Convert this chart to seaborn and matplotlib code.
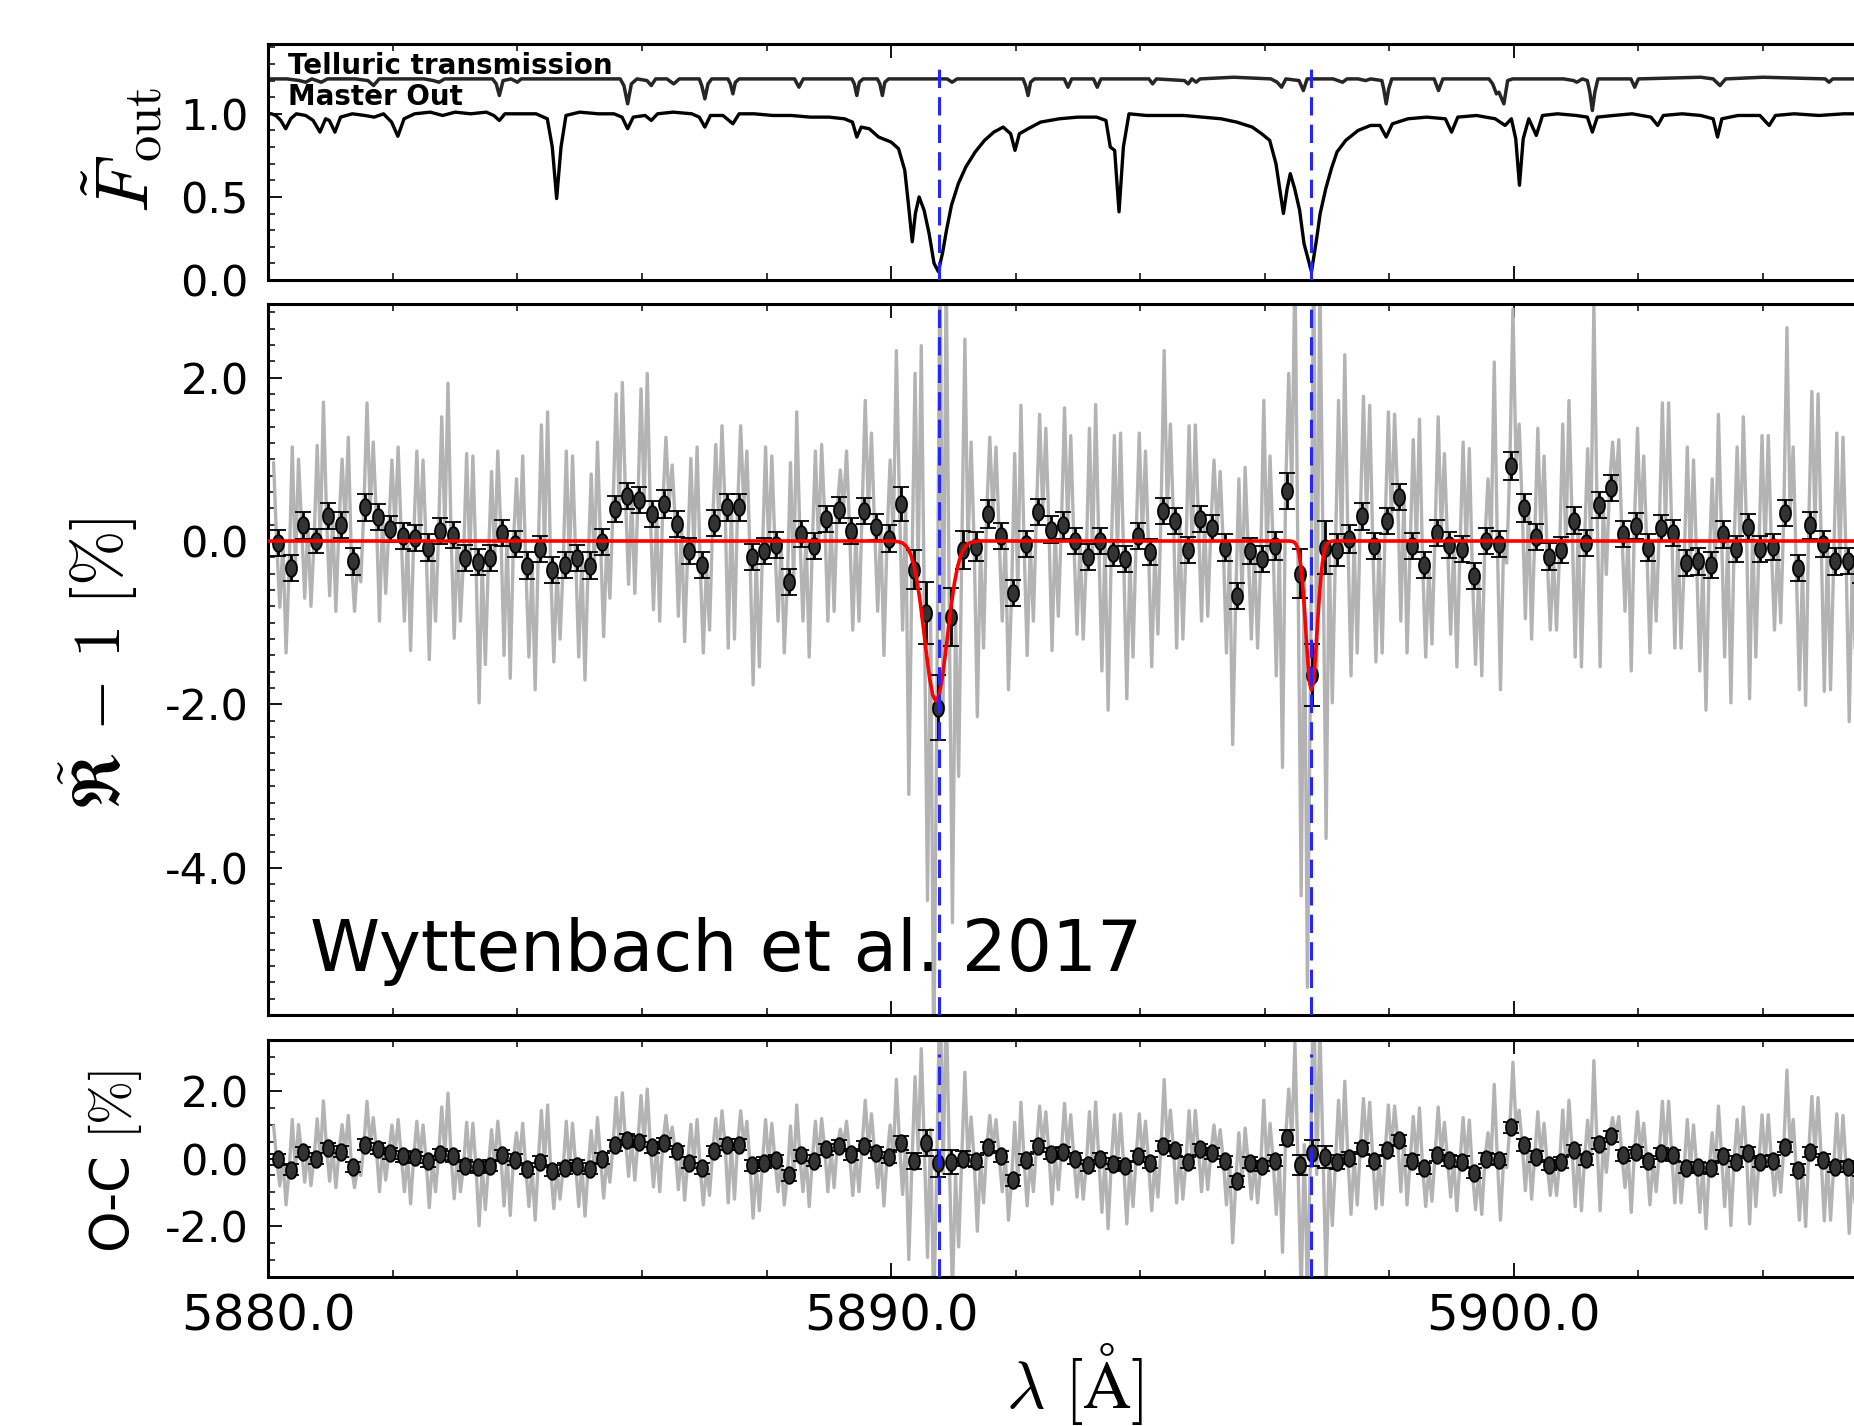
import numpy as np
import matplotlib
matplotlib.use('Agg')
import seaborn as sns
from matplotlib import pyplot as plt
from matplotlib.ticker import MultipleLocator, FormatStrFormatter

# --- top panel: master-out spectrum and telluric transmission
master_wave = [5879.90, 5880.05, 5880.12, 5880.20, 5880.28, 5880.36, 5880.45, 5880.60, 5880.72, 5880.83,
               5880.92, 5880.98, 5881.07, 5881.16, 5881.35, 5881.55, 5881.70, 5881.85, 5881.98, 5882.08,
               5882.18, 5882.35, 5882.60, 5882.80, 5883.00, 5883.25, 5883.50, 5883.62, 5883.71, 5883.80,
               5884.00, 5884.30, 5884.48, 5884.56, 5884.63, 5884.70, 5884.78, 5885.00, 5885.30, 5885.55,
               5885.68, 5885.77, 5885.86, 5886.05, 5886.15, 5886.25, 5886.50, 5886.80, 5886.92, 5887.01,
               5887.10, 5887.30, 5887.46, 5887.56, 5887.80, 5888.10, 5888.40, 5888.70, 5889.00, 5889.25,
               5889.38, 5889.45, 5889.52, 5889.65, 5889.80, 5890.00, 5890.12, 5890.22, 5890.28, 5890.34,
               5890.39, 5890.45, 5890.53, 5890.61, 5890.69, 5890.76, 5890.83, 5890.89, 5890.97, 5891.08,
               5891.20, 5891.35, 5891.50, 5891.65, 5891.80, 5891.92, 5891.99, 5892.06, 5892.20, 5892.40,
               5892.70, 5893.00, 5893.30, 5893.45, 5893.52, 5893.59, 5893.66, 5893.73, 5893.82, 5894.10,
               5894.40, 5894.70, 5895.00, 5895.30, 5895.55, 5895.80, 5895.95, 5896.08, 5896.18, 5896.30,
               5896.36, 5896.41, 5896.48, 5896.56, 5896.63, 5896.75, 5896.83, 5896.89, 5896.98, 5897.07,
               5897.16, 5897.30, 5897.50, 5897.70, 5897.85, 5897.95, 5898.05, 5898.30, 5898.60, 5898.90,
               5899.00, 5899.10, 5899.40, 5899.70, 5899.86, 5899.96, 5900.03, 5900.09, 5900.15, 5900.24,
               5900.36, 5900.46, 5900.70, 5901.00, 5901.18, 5901.26, 5901.34, 5901.60, 5901.90, 5902.20,
               5902.31, 5902.40, 5902.70, 5903.00, 5903.20, 5903.27, 5903.34, 5903.60, 5903.95, 5904.10,
               5904.20, 5904.50, 5904.90, 5905.30, 5906.00]
master_flux = [1.00, 1.00, 0.99, 0.96, 0.91, 0.97, 1.00, 0.99, 0.96, 0.89,
               0.97, 0.96, 0.89, 0.98, 1.00, 0.99, 0.98, 1.00, 0.95, 0.865,
               0.97, 1.00, 1.01, 0.99, 1.01, 1.00, 1.01, 0.99, 0.96, 1.00,
               1.00, 1.00, 0.97, 0.80, 0.49, 0.80, 0.99, 1.01, 1.00, 1.00,
               0.98, 0.91, 0.98, 0.99, 0.96, 1.00, 1.01, 1.00, 0.98, 0.92,
               0.99, 0.99, 0.94, 1.00, 1.00, 0.99, 0.99, 0.98, 0.98, 0.97,
               0.95, 0.86, 0.92, 0.91, 0.86, 0.83, 0.79, 0.66, 0.45, 0.23,
               0.40, 0.50, 0.42, 0.28, 0.10, 0.05, 0.17, 0.30, 0.45, 0.58,
               0.68, 0.77, 0.84, 0.89, 0.92, 0.88, 0.78, 0.88, 0.91, 0.95,
               0.97, 0.98, 0.98, 0.96, 0.80, 0.78, 0.41, 0.80, 1.00, 0.99,
               0.99, 0.99, 0.98, 0.97, 0.95, 0.92, 0.88, 0.84, 0.70, 0.40,
               0.55, 0.64, 0.55, 0.42, 0.22, 0.05, 0.24, 0.40, 0.55, 0.67,
               0.77, 0.84, 0.90, 0.93, 0.93, 0.86, 0.94, 0.97, 0.98, 0.97,
               0.89, 0.98, 0.99, 0.97, 0.93, 0.97, 0.85, 0.57, 0.85, 0.97,
               0.87, 0.99, 1.00, 0.99, 0.98, 0.89, 0.98, 0.99, 1.00, 0.98,
               0.93, 0.99, 1.00, 0.99, 0.97, 0.86, 0.97, 0.99, 0.99, 0.93,
               0.99, 1.00, 0.99, 1.00, 1.00]

telluric_wave = [5879.90, 5880.30, 5880.50, 5880.60, 5880.70, 5880.85, 5880.95, 5881.40, 5881.60, 5881.69,
                 5881.78, 5882.50, 5882.65, 5882.74, 5882.83, 5883.60, 5883.66, 5883.71, 5883.77, 5883.90,
                 5883.95, 5884.00, 5884.06, 5885.65, 5885.71, 5885.77, 5885.83, 5885.92, 5886.08, 5886.15,
                 5886.22, 5886.40, 5886.51, 5886.60, 5886.92, 5886.96, 5887.01, 5887.06, 5887.12, 5887.38,
                 5887.42, 5887.46, 5887.50, 5887.56, 5888.45, 5888.52, 5888.59, 5889.37, 5889.41, 5889.45,
                 5889.49, 5889.55, 5889.78, 5889.82, 5889.86, 5889.90, 5889.96, 5890.90, 5890.98, 5891.06,
                 5892.12, 5892.16, 5892.20, 5892.24, 5892.30, 5892.78, 5892.84, 5892.90, 5893.25, 5893.31,
                 5893.37, 5894.14, 5894.20, 5894.26, 5894.71, 5894.77, 5894.83, 5894.90, 5894.96, 5895.50,
                 5896.10, 5896.20, 5896.27, 5896.34, 5896.55, 5896.62, 5896.68, 5897.10, 5897.25, 5897.32,
                 5897.50, 5897.62, 5897.70, 5897.88, 5897.91, 5897.95, 5897.99, 5898.04, 5898.72, 5898.79,
                 5898.86, 5899.60, 5899.66, 5899.72, 5899.76, 5899.84, 5899.90, 5899.98, 5900.80, 5900.96,
                 5901.01, 5901.10, 5901.18, 5901.22, 5901.26, 5901.30, 5901.35, 5901.88, 5901.94, 5902.00,
                 5903.00, 5903.20, 5903.31, 5903.40, 5904.00, 5905.00, 5905.06, 5905.12, 5906.00]
telluric_flux = [1.21, 1.21, 1.20, 1.19, 1.21, 1.19, 1.21, 1.21, 1.20, 1.17,
                 1.21, 1.21, 1.20, 1.19, 1.21, 1.21, 1.18, 1.11, 1.20, 1.21,
                 1.20, 1.19, 1.21, 1.21, 1.17, 1.06, 1.18, 1.21, 1.20, 1.17,
                 1.21, 1.21, 1.18, 1.21, 1.21, 1.17, 1.09, 1.18, 1.21, 1.21,
                 1.18, 1.12, 1.19, 1.21, 1.21, 1.16, 1.21, 1.21, 1.18, 1.11,
                 1.19, 1.21, 1.21, 1.18, 1.11, 1.19, 1.21, 1.21, 1.19, 1.21,
                 1.21, 1.17, 1.11, 1.19, 1.21, 1.21, 1.16, 1.21, 1.21, 1.16,
                 1.21, 1.21, 1.18, 1.21, 1.20, 1.18, 1.21, 1.19, 1.21, 1.22,
                 1.21, 1.19, 1.16, 1.21, 1.20, 1.14, 1.21, 1.21, 1.19, 1.21,
                 1.21, 1.20, 1.21, 1.20, 1.15, 1.06, 1.15, 1.21, 1.21, 1.14,
                 1.21, 1.21, 1.18, 1.12, 1.13, 1.06, 1.20, 1.21, 1.21, 1.20,
                 1.19, 1.21, 1.20, 1.13, 1.02, 1.13, 1.21, 1.21, 1.16, 1.21,
                 1.22, 1.21, 1.17, 1.21, 1.22, 1.21, 1.19, 1.21, 1.21]

# --- transmission spectrum, 0.2 A bins starting at 5880.16 A
bin_start, bin_step = 5880.16, 0.2
binned_rel = [-0.02, -0.33, 0.19, 0.00, 0.31, 0.20, -0.25, 0.41, 0.29, 0.15,
              0.06, 0.04, -0.08, 0.12, 0.07, -0.21, -0.26, -0.21, 0.10, -0.04,
              -0.30, -0.10, -0.36, -0.29, -0.21, -0.30, -0.01, 0.39, 0.55, 0.50,
              0.33, 0.45, 0.21, -0.12, -0.29, 0.22, 0.41, 0.41, -0.20, -0.12,
              -0.05, -0.50, 0.09, -0.06, 0.27, 0.38, 0.12, 0.37, 0.17, 0.03,
              0.45, -0.35, -0.88, -2.04, -0.93, -0.11, -0.07, 0.33, 0.06, -0.64,
              -0.04, 0.36, 0.14, 0.19, 0.00, -0.20, 0.00, -0.15, -0.22, 0.06,
              -0.13, 0.37, 0.24, -0.11, 0.27, 0.16, -0.08, -0.67, -0.12, -0.22,
              -0.06, 0.61, -0.40, -1.64, -0.08, -0.11, 0.02, 0.30, -0.06, 0.24,
              0.54, -0.06, -0.29, 0.10, -0.05, -0.10, -0.43, 0.00, -0.04, 0.92,
              0.40, 0.05, -0.19, -0.11, 0.25, -0.02, 0.44, 0.65, 0.09, 0.18,
              -0.08, 0.16, 0.10, -0.27, -0.25, -0.29, 0.08, -0.10, 0.17, -0.10,
              -0.07, 0.34, -0.33, 0.19, -0.04, -0.25, -0.24, -0.36, -0.30]
binned_err = [0.16, 0.16, 0.16, 0.15, 0.16, 0.16, 0.16, 0.17, 0.16, 0.16,
              0.16, 0.16, 0.16, 0.16, 0.16, 0.16, 0.16, 0.16, 0.16, 0.16,
              0.16, 0.16, 0.16, 0.16, 0.16, 0.16, 0.16, 0.16, 0.16, 0.16,
              0.16, 0.17, 0.16, 0.16, 0.16, 0.16, 0.16, 0.16, 0.16, 0.16,
              0.16, 0.16, 0.16, 0.16, 0.16, 0.16, 0.16, 0.16, 0.16, 0.17,
              0.21, 0.24, 0.38, 0.40, 0.35, 0.23, 0.18, 0.17, 0.16, 0.16,
              0.16, 0.16, 0.16, 0.16, 0.16, 0.16, 0.16, 0.16, 0.16, 0.16,
              0.16, 0.16, 0.16, 0.16, 0.16, 0.16, 0.16, 0.16, 0.16, 0.16,
              0.17, 0.22, 0.30, 0.38, 0.32, 0.20, 0.17, 0.16, 0.16, 0.16,
              0.16, 0.16, 0.16, 0.16, 0.16, 0.16, 0.16, 0.16, 0.16, 0.17,
              0.17, 0.16, 0.16, 0.16, 0.16, 0.16, 0.16, 0.16, 0.16, 0.16,
              0.16, 0.16, 0.16, 0.16, 0.16, 0.16, 0.16, 0.16, 0.16, 0.16,
              0.16, 0.16, 0.16, 0.16, 0.16, 0.16, 0.16, 0.16, 0.16]
# upper / lower excursion of the full-resolution spectrum inside each bin
gray_hi = [0.96, 1.15, 1.00, 1.17, 1.70, 1.00, 1.27, 1.69, 1.21, 0.99,
           1.15, 1.10, 0.99, 1.52, 1.93, 1.07, 1.04, 0.85, 1.10, 0.76,
           1.04, 1.42, 1.58, 1.10, 1.04, 0.82, 1.21, 1.80, 1.94, 1.86,
           2.05, 1.27, 0.93, 1.01, 1.15, 1.18, 1.41, 1.41, 1.10, 1.15,
           1.04, 0.96, 1.58, 1.10, 1.18, 0.87, 1.10, 1.72, 1.32, 0.99,
           2.33, 2.05, 2.39, 3.60, 3.40, 2.47, 1.21, 1.27, 1.15, 1.07,
           1.66, 1.55, 1.38, 1.63, 1.29, 1.38, 1.67, 1.29, 1.32, 1.32,
           1.10, 2.33, 1.43, 1.41, 1.42, 0.99, 0.85, 0.76, 0.90, 1.72,
           1.04, 2.05, 3.40, 3.60, 3.30, 1.72, 2.28, 1.77, 1.66, 1.58,
           1.55, 1.24, 1.49, 1.52, 1.07, 1.21, 1.13, 0.76, 2.19, 2.84,
           1.43, 1.38, 1.04, 1.43, 1.72, 1.13, 2.89, 1.21, 1.24, 1.38,
           1.04, 1.69, 1.69, 1.15, 0.99, 0.76, 1.55, 1.15, 1.52, 1.29,
           1.29, 2.61, 1.15, 1.83, 1.80, 1.32, 1.27, 1.00, 1.10]
gray_lo = [-0.81, -1.37, -0.70, -0.80, -0.67, -0.86, -0.86, -0.50, -0.98, -0.64,
           -0.98, -1.34, -1.45, -0.98, -1.19, -0.98, -1.98, -1.51, -1.40, -1.68,
           -1.42, -1.82, -1.48, -1.20, -1.42, -1.70, -1.17, -0.70, -0.53, -0.64,
           -0.84, -0.98, -0.92, -1.23, -1.37, -1.09, -1.31, -1.20, -1.76, -1.54,
           -0.98, -1.37, -0.98, -1.42, -0.98, -0.86, -1.09, -0.98, -0.86, -1.40,
           -1.09, -3.10, -4.40, -6.50, -4.67, -2.88, -2.15, -1.31, -0.98, -1.82,
           -1.40, -0.98, -1.34, -0.92, -1.14, -1.20, -1.59, -2.07, -1.93, -1.42,
           -1.54, -1.14, -1.31, -1.20, -0.98, -0.92, -1.37, -2.49, -1.20, -1.31,
           -1.65, -2.77, -4.34, -5.46, -3.64, -1.98, -1.65, -1.37, -1.48, -1.37,
           -0.98, -1.37, -1.42, -1.26, -1.14, -1.54, -1.51, -1.65, -1.82, -0.27,
           -0.95, -1.20, -1.09, -1.09, -1.42, -1.54, -1.54, -0.41, -0.86, -1.59,
           -1.37, -0.98, -1.31, -1.31, -1.59, -2.07, -1.42, -1.98, -1.93, -1.42,
           -1.09, -1.00, -1.82, -2.01, -1.84, -1.82, -2.21, -1.50, -1.30]

# --- fitted absorption model (red curve): offsets from each line centre and depths
line_centres = [5890.72, 5896.75]
d2_offset = [-0.70, -0.60, -0.55, -0.50, -0.45, -0.40, -0.35, -0.30, -0.25, -0.20, -0.15, -0.10, -0.05, 0.00,
             0.05, 0.10, 0.15, 0.20, 0.25, 0.30, 0.35, 0.40, 0.45, 0.50, 0.55, 0.60, 0.70]
d2_model = [0.0, -0.009, -0.020, -0.045, -0.092, -0.175, -0.308, -0.503, -0.763, -1.072, -1.395, -1.686, -1.887, -1.96,
            -1.887, -1.686, -1.395, -1.072, -0.763, -0.503, -0.308, -0.175, -0.092, -0.045, -0.020, -0.009, 0.0]
d1_offset = [-0.35, -0.30, -0.275, -0.25, -0.225, -0.20, -0.175, -0.15, -0.125, -0.10, -0.075, -0.05, -0.025, 0.0,
             0.025, 0.05, 0.075, 0.10, 0.125, 0.15, 0.175, 0.20, 0.225, 0.25, 0.275, 0.30, 0.35]
d1_model = [0.0, -0.007, -0.017, -0.038, -0.080, -0.154, -0.275, -0.454, -0.694, -0.982, -1.287, -1.560, -1.751, -1.82,
            -1.751, -1.560, -1.287, -0.982, -0.694, -0.454, -0.275, -0.154, -0.080, -0.038, -0.017, -0.007, 0.0]
na_lines = [5890.77, 5896.74]

# ---------------------------------------------------------------- derived arrays
bin_wave = bin_start + bin_step * np.arange(len(binned_rel))
hi = np.array(gray_hi)
lo = np.array(gray_lo)
mid = np.array(binned_rel)
# spikes go out from the bin level to the upper and the lower excursion;
# every other bin starts with the low spike so the pattern is not a plain sawtooth
odd = np.arange(len(mid)) % 2 == 1
first = np.where(odd, lo, hi)
second = np.where(odd, hi, lo)
gray_x = np.column_stack([bin_wave - 0.075, bin_wave - 0.025, bin_wave + 0.025, bin_wave + 0.075]).ravel()
gray_y = np.column_stack([first, mid, second, mid]).ravel()
model_wave = np.concatenate([[5879.0], line_centres[0] + np.array(d2_offset),
                             line_centres[1] + np.array(d1_offset), [5907.0]])
model_val = np.concatenate([[0.0], d2_model, d1_model, [0.0]])
gray_res = gray_y - np.interp(gray_x, model_wave, model_val)
bin_res = mid - np.interp(bin_wave, model_wave, model_val)

# ---------------------------------------------------------------- style
sns.set_theme(style="ticks")
plt.rcParams['font.family'] = ['DejaVu Sans']
plt.rcParams['mathtext.fontset'] = 'cm'
plt.rcParams['axes.unicode_minus'] = False
for key in ('text.color', 'axes.labelcolor', 'xtick.color', 'ytick.color', 'axes.edgecolor'):
    plt.rcParams[key] = 'black'

W, H = 1854, 1426
fig = plt.figure(figsize=(W / 100, H / 100), dpi=100)
x_left, ax_w = 268.3 / W, 1613 / W
ax_top = fig.add_axes([x_left, 1 - 280 / H, ax_w, 236 / H])
ax_mid = fig.add_axes([x_left, 1 - 1015 / H, ax_w, 711 / H])
ax_res = fig.add_axes([x_left, 1 - 1277 / H, ax_w, 237 / H])

ell = [(0.66 * np.cos(t), np.sin(t)) for t in np.linspace(0, 2 * np.pi, 41)]
gray_c, blue_c = '#b3b3b3', '#2525ff'
dash = (0, (6, 3))
pt_style = dict(ls='none', marker=ell, ms=12, mfc='#333333', mec='black', mew=1.3,
                ecolor='black', elinewidth=2.0, capsize=5.5, capthick=2.0, zorder=3)

# top panel
sns.lineplot(x=telluric_wave, y=telluric_flux, ax=ax_top, color='#262626', linewidth=2.5,
             sort=False, estimator=None)
sns.lineplot(x=master_wave, y=master_flux, ax=ax_top, color='black', linewidth=2.4,
             sort=False, estimator=None)
ax_top.vlines(na_lines, 0, 1.30, colors=blue_c, linestyles=dash, linewidth=2.2, zorder=5)
ax_top.text(5880.32, 1.237, 'Telluric transmission', fontsize=20, fontweight='bold', va='baseline')
ax_top.text(5880.32, 1.051, 'Master Out', fontsize=20, fontweight='bold', va='baseline')
ax_top.set_ylim(0, 1.42)
ax_top.yaxis.set_major_locator(MultipleLocator(0.5))
ax_top.yaxis.set_minor_locator(MultipleLocator(0.1))
ax_top.set_ylabel(r'$\tilde{F}_{\mathrm{out}}$', fontsize=54)
ax_top.yaxis.set_label_coords(-0.064, 0.55)

# middle panel
sns.lineplot(x=gray_x, y=gray_y, ax=ax_mid, color=gray_c, linewidth=2.4, sort=False,
             estimator=None, zorder=1)
ax_mid.errorbar(bin_wave, binned_rel, yerr=binned_err, **pt_style)
sns.lineplot(x=model_wave, y=model_val, ax=ax_mid, color='red', linewidth=2.6, sort=False,
             estimator=None, zorder=4)
for w in na_lines:
    ax_mid.axvline(w, color=blue_c, ls=dash, lw=2.2, zorder=5)
ax_mid.text(5880.67, -5.26, 'Wyttenbach et al. 2017', fontsize=51, va='baseline', zorder=6)
ax_mid.set_ylim(-5.8, 2.9)
ax_mid.yaxis.set_major_locator(MultipleLocator(2))
ax_mid.yaxis.set_minor_locator(MultipleLocator(0.2))
ax_mid.set_ylabel(r'$\tilde{\mathfrak{R}}\,-\,1\ [\%]$', fontsize=48)
ax_mid.yaxis.set_label_coords(-0.0795, 0.494)

# residual panel
sns.lineplot(x=gray_x, y=gray_res, ax=ax_res, color=gray_c, linewidth=2.4, sort=False,
             estimator=None, zorder=1)
ax_res.errorbar(bin_wave, bin_res, yerr=binned_err, **pt_style)
ax_res.vlines(na_lines, -3.5, 3.08, colors=blue_c, linestyles=dash, linewidth=2.2, zorder=5)
ax_res.set_ylim(-3.5, 3.5)
ax_res.yaxis.set_major_locator(MultipleLocator(2))
ax_res.yaxis.set_minor_locator(MultipleLocator(0.5))
ax_res.set_ylabel(r'O-C $[\%]$', fontsize=38)
ax_res.yaxis.set_label_coords(-0.077, 0.489)
ax_res.set_xlabel(r'$\lambda\ [\mathrm{\AA}]$', fontsize=48)
ax_res.xaxis.set_label_coords(0.5, -0.27)

for ax in (ax_top, ax_mid, ax_res):
    ax.set_xlim(5880, 5905.9)
    ax.xaxis.set_major_locator(MultipleLocator(10))
    ax.xaxis.set_minor_locator(MultipleLocator(2))
    ax.xaxis.set_major_formatter(FormatStrFormatter('%.1f'))
    ax.yaxis.set_major_formatter(FormatStrFormatter('%.1f'))
    ax.tick_params(which='both', direction='in', top=True, right=True, color='black')
    ax.tick_params(which='major', length=10, width=1.3)
    ax.tick_params(which='minor', length=5, width=1.1)
    ax.tick_params(axis='y', which='major', labelsize=31, pad=14)
    ax.tick_params(axis='x', which='major', labelsize=36, pad=11)
    for s in ax.spines.values():
        s.set_linewidth(2.2)
        s.set_color('black')
ax_top.tick_params(axis='x', labelbottom=False)
ax_mid.tick_params(axis='x', labelbottom=False)

fig.savefig('out.png', dpi=100)
